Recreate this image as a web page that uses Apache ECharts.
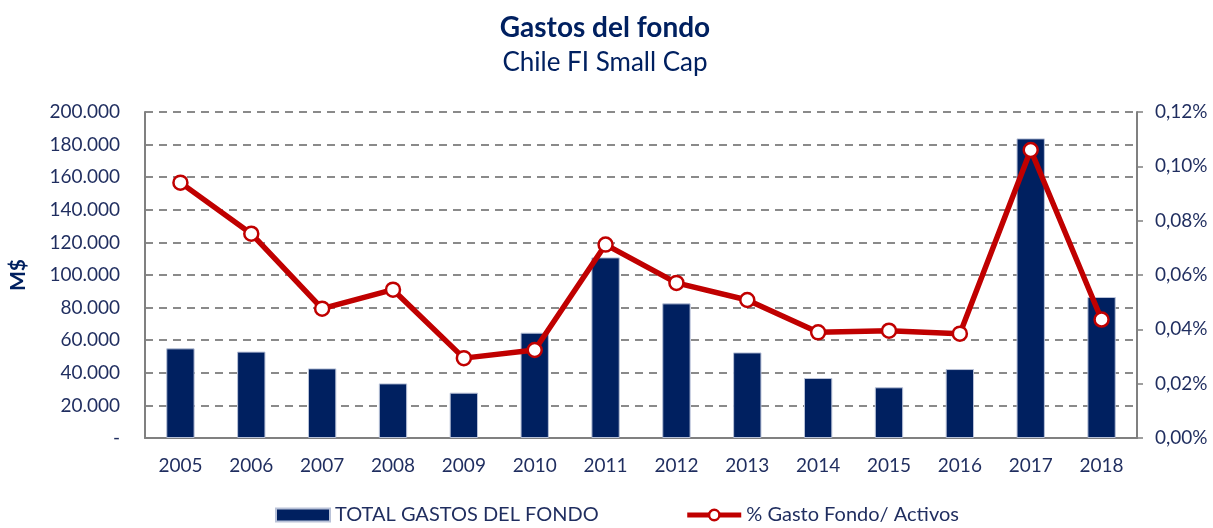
<!DOCTYPE html>
<html>
<head>
<meta charset="utf-8">
<script src="https://cdn.jsdelivr.net/npm/echarts@6/dist/echarts.min.js"></script>
<style>html,body{margin:0;padding:0;background:#fff;}#c{width:1213px;height:528px;}</style>
</head>
<body>
<div id="c"></div>
<script>
const years = ['2005','2006','2007','2008','2009','2010','2011','2012','2013','2014','2015','2016','2017','2018'];
const totalGastos = [55000,53000,42700,33500,27800,64600,110800,82600,52500,36800,31100,42300,183800,86500];
const pctGasto = [0.0940,0.0752,0.0476,0.0546,0.0294,0.0324,0.0712,0.0571,0.0508,0.0389,0.0395,0.0384,0.1060,0.0436];
const barName = 'TOTAL GASTOS DEL FONDO';
const lineName = '% Gasto Fondo/ Activos';

const font = 'Lato, "Open Sans", sans-serif';
const navy = '#002060';
const textCol = '#1F2D5F';
const chart = echarts.init(document.getElementById('c'), null, {renderer:'canvas'});
chart.setOption({
  animation:false,
  backgroundColor:'#fff',
  textStyle:{fontFamily:font},
  title:[
    {text:'Gastos del fondo', left:600, top:9, textAlign:'center',
     textStyle:{fontFamily:font, fontSize:28, fontWeight:'bold', color:navy}},
    {text:'Chile FI Small Cap', left:600, top:45, textAlign:'center',
     textStyle:{fontFamily:font, fontSize:26, fontWeight:'normal', color:navy}}
  ],
  legend:{
    bottom:-2, left:270, itemGap:86,
    textStyle:{fontFamily:font, fontSize:20, color:textCol},
    data:[
      {name:barName, icon:'rect'},
      {name:lineName, lineStyle:{width:5, color:'#C00000'}, itemStyle:{color:'#fff', borderColor:'#C00000', borderWidth:2.5}}
    ],
    itemWidth:54, itemHeight:13
  },
  grid:{left:143, right:76, top:112, bottom:90},
  xAxis:{
    type:'category', data:years,
    axisLine:{lineStyle:{color:'#808080', width:2}},
    axisTick:{show:false},
    axisLabel:{fontFamily:font, fontSize:19, color:textCol, margin:18}
  },
  yAxis:[
    {type:'value', min:0, max:200000, interval:20000,
     name:'M$', nameLocation:'middle', nameGap:116, nameRotate:90,
     nameTextStyle:{fontFamily:font, fontSize:21, fontWeight:'bold', color:navy},
     axisLine:{show:true, lineStyle:{color:'#808080', width:2}},
     axisTick:{show:false},
     splitLine:{show:true, lineStyle:{color:'#8a8a8a', width:2, type:[8,6]}},
     axisLabel:{fontFamily:font, fontSize:19, color:textCol, margin:25,
       formatter:function(v){ return v===0 ? '-' : v.toString().replace(/\B(?=(\d{3})+(?!\d))/g,'.'); }}
    },
    {type:'value', min:0, max:0.12, interval:0.02, position:'right',
     axisLine:{show:true, lineStyle:{color:'#808080', width:2}},
     axisTick:{show:true, inside:false, length:6, lineStyle:{color:'#808080', width:1.5}},
     splitLine:{show:false},
     axisLabel:{fontFamily:font, fontSize:19, color:textCol, margin:18,
       formatter:function(v){ return v.toFixed(2).replace('.',',')+'%'; }}
    }
  ],
  series:[
    {name:barName, type:'bar', data:totalGastos, yAxisIndex:0, barWidth:'40%',
     itemStyle:{color:navy, borderColor:'#b9c2d8', borderWidth:1}},
    {name:lineName, type:'line', data:pctGasto, yAxisIndex:1,
     symbol:'circle', symbolSize:14,
     lineStyle:{color:'#C00000', width:5.5},
     itemStyle:{color:'#ffffff', borderColor:'#C00000', borderWidth:2.5}}
  ]
});
</script>
</body>
</html>
